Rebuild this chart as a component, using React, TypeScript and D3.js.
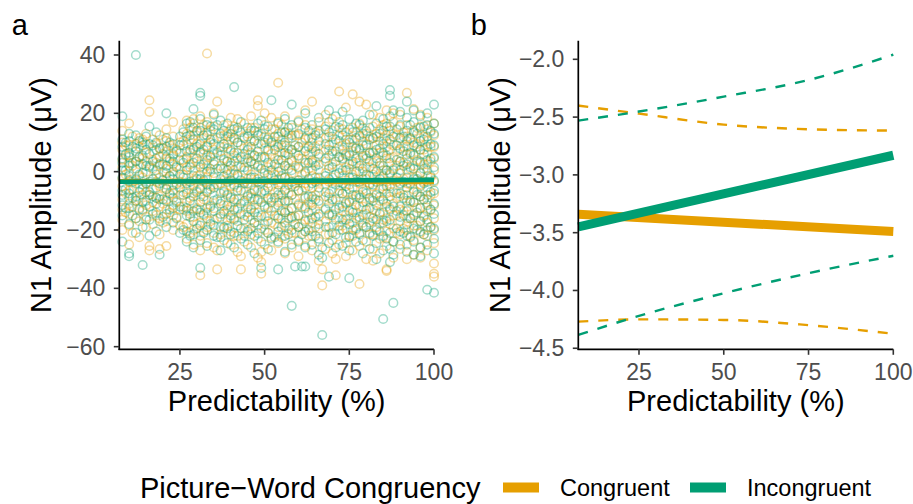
import React from "react";
import * as d3 from "d3";

// ---------- data ----------
const conditions = ["Congruent", "Incongruent"];
const conditionColors = ["#E69F00", "#009E73"];
const predictabilityTicks = [25, 50, 75, 100];
const amplitudeTicksA = [40, 20, 0, -20, -40, -60];
const amplitudeTicksB = [-2.0, -2.5, -3.0, -3.5, -4.0, -4.5];

// fitted regression lines (panel a & b)
const fitPredictability = [7.1, 100];
const congruentFit = [-3.34, -3.49];
const incongruentFit = [-3.45, -2.83];

// confidence bands (panel b)
const ciPredictability = [7.1, 25, 50, 75, 100];
const congruentUpper = [-2.4, -2.47, -2.565, -2.605, -2.617];
const congruentLower = [-4.27, -4.25, -4.255, -4.3, -4.375];
const incongruentUpper = [-2.53, -2.452, -2.323, -2.179, -1.96];
const incongruentLower = [-4.385, -4.22, -4.024, -3.851, -3.7];

// raw single-trial amplitudes (panel a), grouped by predictability column
const congruentTrials: [number, number[]][] = [
  [8, [-20, -16.5, -13, -9.5, -5, -2.5, 1.5, 4, 7.5, 10, 14]],
  [10, [-25, -18.5, -14.5, -11, -6.5, -3.5, 0, 3, 5.5, 9, 16.5]],
  [11, [-21, -12, -6, 2, 12]],
  [13, [-22.5, -17, -12.5, -9, -5.5, -1.5, 2.5, 5, 8.5, 11.5]],
  [15, [-19, -15.5, -11.5, -7, -4, 0, 3.5, 6.5, 9.5, 13]],
  [16, [-27, -25.5, -8, 20.5, 24.5]],
  [17, [-18, -13.5, -10.5, -6, -2.5, 1, 4, 7, 11]],
  [19, [-26.5, -21.5, -16, -12, -8.5, -5, -2, 2, 5, 8, 12.5]],
  [21, [-25.5, -17, -13, -9.5, -6, -2.5, 1, 4.5, 7, 10.5, 14.5]],
  [23, [-20, -15, -11.5, -7.5, -4.5, -1, 2.5, 5.5, 8, 12, 17]],
  [25, [-18.5, -13, -8, -3.5, 1, 6.5, 10]],
  [27, [-23, -18, -13.5, -10.5, -6, -2, 1.5, 5, 9.5, 13, 17.5]],
  [29, [-25, -20, -15.5, -11, -7.5, -3, 0.5, 4.5, 8, 12.5, 16.5, 18]],
  [31, [-35.5, -27, -22, -17.5, -13, -8.5, -5.5, -1, 2.5, 7, 10.5, 15, 19]],
  [33, [-24.5, -19, -14, -10, -6.5, -2, 2, 5.5, 9, 13.5, 17, 40.5]],
  [35, [-26, -21, -16.5, -12.5, -8, -4.5, -0.5, 3.5, 7.5, 11, 15.5, 20]],
  [36, [-33.5, -27, 24]],
  [38, [-23.5, -19.5, -14.5, -11.5, -6.5, -3, 1, 4.5, 8.5, 12.5, 16]],
  [40, [-25, -20.5, -16, -12, -8.5, -5, -0.5, 3, 7, 11, 14.5, 18.5]],
  [42, [-27.5, -22, -17, -13, -9.5, -5.5, -1.5, 2, 6.5, 10, 14, 18]],
  [43, [-33.5, -29]],
  [44, [-24, -19.5, -15, -10.5, -7, -3.5, 0.5, 4, 8, 12, 16.5]],
  [46, [-26, -21.5, -16.5, -12.5, -9, -4.5, -1, 3.5, 6.5, 10.5, 15, 19]],
  [48, [-29.5, -23, -18.5, -14, -10, -6.5, -2.5, 1.5, 5, 9.5, 13.5, 22.5, 24.5]],
  [49, [-35, -31, -27.5]],
  [50, [-25, -20, -15.5, -11.5, -7.5, -3, 0.5, 4.5, 8, 12, 16, 20]],
  [52, [-27, -22.5, -17.5, -13.5, -9, -5, -1.5, 2.5, 6, 10.5, 14.5, 18.5]],
  [54, [-24.5, -19, -15, -10.5, -6.5, -2.5, 1.5, 5.5, 9.5, 13, 17, 30.5]],
  [56, [-28, -23, -18.5, -14, -10.5, -6, -2, 2, 5.5, 9, 13.5, 19]],
  [58, [-26, -21, -16, -12.5, -8, -4.5, -0.5, 3.5, 7.5, 11.5, 15]],
  [60, [-29, -23.5, -19, -15, -11, -6.5, -3, 1, 4.5, 8.5, 12.5, 17.5]],
  [62, [-25.5, -20.5, -16.5, -12, -8.5, -4, 0, 4, 8, 11, 16, 21]],
  [64, [-27, -22, -17.5, -13.5, -9.5, -5.5, -1.5, 3, 6.5, 10, 14.5, 24]],
  [66, [-30.5, -24, -19.5, -15.5, -11, -7, -3.5, 0.5, 5, 9, 13, 17]],
  [67, [-39, -33.5]],
  [68, [-26.5, -21.5, -17, -12.5, -8.5, -4.5, -0.5, 3.5, 7.5, 11.5, 15.5, 19.5]],
  [70, [-28, -23.5, -18.5, -14.5, -10, -6, -2, 2.5, 6, 10, 14, 18]],
  [71, [-35.5, -30]],
  [72, [-25, -20, -16, -11.5, -7.5, -3.5, 1, 5, 8.5, 12.5, 17, 27.5]],
  [74, [-29, -24.5, -19.5, -15, -11, -7, -3, 1.5, 5.5, 9.5, 13.5, 22]],
  [76, [-27, -22, -17.5, -13, -9.5, -5.5, -1, 2.5, 7, 11, 15, 26.5]],
  [78, [-38.5, -25.5, -21, -16.5, -12, -8, -4, 0, 4, 8, 12, 16.5, 24]],
  [80, [-30, -24, -19, -14.5, -10.5, -6.5, -2.5, 1.5, 5.5, 9.5, 13, 23]],
  [82, [-30.5, -26.5, -21.5, -17, -13, -9, -5, -1, 3, 7, 11.5, 15.5, 19.5]],
  [84, [-28, -23, -18, -14, -10, -6, -1.5, 2, 6.5, 10.5, 14.5, 18.5]],
  [86, [-34, -33.5, -25.5, -20.5, -16, -12, -7.5, -3.5, 0.5, 4.5, 8.5, 12.5, 16.5, 21]],
  [88, [-29.5, -24, -19.5, -15, -11, -7, -3, 1, 5, 9, 13, 17, 20]],
  [90, [-26.5, -21.5, -17, -13, -8.5, -4.5, -0.5, 3.5, 7.5, 11.5, 15.5, 19.5]],
  [92, [-30, -25, -20, -16, -12, -8, -4, 0.5, 4.5, 8.5, 12, 16, 27]],
  [94, [-28.5, -23.5, -18.5, -14.5, -10.5, -6, -2, 2, 6, 10, 14, 21.5]],
  [96, [-29.5, -26, -21, -17, -12.5, -8.5, -4.5, -0.5, 3.5, 7.5, 11.5, 15.5, 19.5]],
  [98, [-27, -22, -17.5, -13.5, -9.5, -5.5, -1.5, 2.5, 6.5, 10.5, 14.5, 18.5]],
  [100, [-36, -35, -31.5, -24.5, -20, -16, -11.5, -7.5, -3.5, 0.5, 4.5, 8.5, 12.5, 16.5]],
];

// further congruent trials in the dense core
const congruentTrialsCore: [number, number[]][] = [
  [9, [-14, -7.5, -1, 5.5, 9]],
  [12, [-16, -10, -3, 3.5, 9.5]],
  [14, [-13.5, -8, -2, 4.5, 11]],
  [18, [-15, -9, -3.5, 3, 9.5]],
  [20, [-17.5, -11, -5.5, 0, 6, 11]],
  [22, [-14, -8, -1.5, 3.5, 9]],
  [24, [-15.5, -10, -4, 2, 7.5]],
  [26, [-19, -12, -7, -1, 4, 10.5, 14.5]],
  [28, [-21, -14.5, -9, -4.5, 2.5, 6.5, 11, 15]],
  [30, [-18, -12.5, -6.5, -1.5, 3.5, 9.5, 13.5]],
  [32, [-20.5, -15, -9.5, -3.5, 1, 6, 11.5, 16]],
  [34, [-17, -11.5, -5, 0, 5, 10, 14]],
  [37, [-21.5, -15.5, -10, -4, 2, 7, 12]],
  [39, [-18.5, -13, -7.5, -1, 3.5, 9.5, 13]],
  [41, [-22, -16, -10.5, -5, 0.5, 5.5, 11, 15.5]],
  [45, [-20, -14, -8, -2.5, 3, 8.5, 13]],
  [47, [-17.5, -11.5, -6, 0, 5.5, 10.5, 15]],
  [51, [-21, -15, -9.5, -4, 1.5, 7, 11.5]],
  [53, [-18, -12.5, -7, -1, 4.5, 9, 14.5]],
  [55, [-22.5, -16, -10, -4.5, 0.5, 6.5, 11, 16]],
  [57, [-19.5, -13.5, -7.5, -2.5, 3, 8, 13]],
  [59, [-21, -15.5, -9.5, -4, 2, 6.5, 12.5]],
  [61, [-18, -12, -6.5, -1, 4.5, 10, 14.5]],
  [63, [-22, -16.5, -10.5, -5, 1, 6, 11.5]],
  [65, [-19, -13, -8, -2, 3.5, 8.5, 13.5]],
  [69, [-21.5, -15, -9, -3.5, 2, 7.5, 12]],
  [73, [-18.5, -13.5, -7.5, -1.5, 4, 9, 14.5]],
  [75, [-22, -16, -10, -4.5, 1, 6.5, 11]],
  [77, [-20, -14, -8.5, -2.5, 3, 8, 13.5]],
  [79, [-17.5, -12, -6, 0, 5, 10.5, 15]],
  [81, [-21.5, -15.5, -9.5, -4, 1.5, 6.5, 12]],
  [83, [-19, -13.5, -7.5, -2, 3.5, 9, 13]],
  [85, [-22.5, -16.5, -10, -5, 0.5, 5.5, 11.5, 16]],
  [87, [-18, -12.5, -7, -1, 4.5, 9.5, 14]],
  [89, [-21, -15, -9, -3.5, 2, 7, 12.5]],
  [91, [-19.5, -13.5, -8, -2.5, 3, 8.5, 13.5]],
  [93, [-22, -16, -10.5, -4.5, 1, 6, 11]],
  [95, [-18.5, -12.5, -7, -1.5, 4, 9.5, 15]],
  [97, [-21.5, -15, -9.5, -3.5, 2.5, 7.5, 12]],
  [99, [-19, -13, -8, -2, 3.5, 8.5, 13.5]],
];

const incongruentTrials: [number, number[]][] = [
  [8, [-24, -15, -11.5, -8, -6.5, -2, 0.5, 3, 4.5, 8.5, 11, 19]],
  [10, [-29, -28, -18, -12.5, -9, -7.5, -3, -1.5, 2, 5, 6.5, 10.5, 13]],
  [12, [-21, -16, -10, -8.5, -4, -2.5, 1, 3.5, 7, 8, 12.5, 40]],
  [14, [-32, -19, -13, -10.5, -6, -4.5, -0.5, 2.5, 5.5, 9, 10]],
  [16, [-22, -16.5, -12, -8, -7, -3.5, 1.5, 2, 6, 9.5, 15.5]],
  [18, [-20.5, -14, -11, -9, -5.5, -1, 0.5, 4.5, 7.5, 10, 13.5]],
  [19, [-28.5, -17, -9.5, -4, 2.5, 8]],
  [21, [-19, -14.5, -10, -6, -4.5, -0.5, 2, 5, 8.5, 11.5, 20]],
  [23, [-17.5, -12.5, -9, -6.5, -2.5, 0, 3.5, 6, 9.5]],
  [25, [-21, -12, -5.5, -1, 4, 9, 12]],
  [27, [-24, -20.5, -15, -12.5, -7.5, -4, 0.5, 4.5, 7, 12, 16.5]],
  [29, [-26, -21.5, -17, -13.5, -8.5, -5, -1.5, 3, 7.5, 11, 15, 21.5]],
  [31, [-33, -23.5, -18.5, -14, -10.5, -6, -2.5, 1.5, 6.5, 9.5, 14, 18, 26, 27]],
  [33, [-25.5, -20, -16, -12.5, -7, -4.5, 0, 4, 8.5, 12.5, 16]],
  [35, [-22, -18.5, -13.5, -10, -5.5, -2, 2.5, 6, 9.5, 14.5, 19.5]],
  [37, [-27, -22.5, -19, -14.5, -11, -7.5, -2.5, 1, 5.5, 8.5, 13, 17.5]],
  [39, [-24.5, -19.5, -16.5, -11.5, -8, -3.5, 0.5, 3.5, 8, 12, 16.5]],
  [41, [-26, -21, -16.5, -13, -9.5, -4.5, -1, 3.5, 6.5, 11.5, 14.5, 29]],
  [43, [-23, -19.5, -14.5, -11, -6.5, -3, 1.5, 5, 9, 13.5, 17]],
  [45, [-25, -20.5, -15.5, -12, -8.5, -4, 0.5, 4.5, 7.5, 12, 15]],
  [47, [-28, -22, -17.5, -14, -9.5, -6.5, -2, 2.5, 5.5, 10.5, 14]],
  [49, [-33, -24, -19.5, -15, -10.5, -7, -3.5, 1, 5, 9.5, 13, 17.5]],
  [51, [-26.5, -21, -17, -12.5, -9, -5.5, -1, 3, 7.5, 11, 15.5]],
  [52, [-23, -10.5, 0.5, 10, 24.5]],
  [54, [-33.5, -24, -20.5, -16, -11.5, -8, -4.5, 0, 4, 8.5, 12, 16.5]],
  [56, [-27.5, -22, -17.5, -14, -10, -6.5, -2, 2, 6.5, 10, 13.5, 18]],
  [58, [-46, -25, -20, -15.5, -12.5, -8, -3.5, 0.5, 4, 7.5, 12.5, 16, 23]],
  [59, [-32.5, -18, -5, 9]],
  [60, [-24, -19, -15, -11.5, -6.5, -3, 1.5, 5.5, 8.5, 13, 17]],
  [61, [-32.5, -21.5]],
  [62, [-32.5, -26, -20.5, -17, -12.5, -9, -5.5, -0.5, 3, 7, 11.5, 15, 20]],
  [64, [-25, -20.5, -16, -11.5, -8.5, -4, 0.5, 4, 8, 11.5, 16]],
  [66, [-28.5, -23, -18, -14.5, -10, -5.5, -2, 2.5, 6, 10.5, 14, 18.5]],
  [67, [-56, -29.5, -26]],
  [69, [-36, -24.5, -19, -14.5, -11, -7.5, -2.5, 1, 5.5, 9, 13.5, 17, 21]],
  [71, [-26, -21.5, -16.5, -13, -9.5, -4.5, -1, 3.5, 7, 11, 15.5, 19]],
  [73, [-25.5, -20, -16.5, -12, -7.5, -4, 0.5, 4.5, 7.5, 12.5, 16, 20.5]],
  [75, [-36.5, -27, -22.5, -18, -13.5, -10.5, -6, -2, 2.5, 5.5, 10, 14.5, 18]],
  [77, [-24, -19.5, -16, -11.5, -8, -3.5, 0, 4.5, 8, 11.5, 16.5]],
  [79, [-28, -23.5, -18.5, -15, -10.5, -7, -2.5, 1, 5.5, 9, 13, 17.5]],
  [81, [-26.5, -21, -17.5, -12.5, -9, -4.5, -1.5, 3.5, 6.5, 11, 15, 19.5]],
  [83, [-30, -24.5, -20, -16.5, -11.5, -8, -3.5, 0, 4.5, 7.5, 12, 16.5, 22.5]],
  [85, [-50.5, -27, -22, -17.5, -14, -9.5, -6, -1.5, 2, 6.5, 9.5, 14, 18]],
  [87, [-31, -26.5, -21, -16.5, -13, -8.5, -5, -0.5, 3, 7.5, 11, 15.5, 19, 26, 28]],
  [88, [-45, -28.5, -24, -12, 0.5, 12, 21]],
  [90, [-25, -20.5, -15.5, -12, -7.5, -4, 0.5, 3.5, 8, 11.5, 16, 20.5]],
  [92, [-27.5, -22, -18, -13.5, -10, -5.5, -2, 2.5, 6, 10.5, 14, 18.5, 24]],
  [94, [-28.5, -24, -19.5, -15, -10.5, -7, -2.5, 1, 5.5, 9, 13.5, 17, 21]],
  [96, [-29, -26, -20.5, -17, -12.5, -8.5, -5, -0.5, 3, 7.5, 10.5, 15, 19]],
  [98, [-40.5, -25, -20, -16.5, -11.5, -8, -3.5, 0.5, 4, 8.5, 12, 16, 20]],
  [100, [-41.5, -28, -23, -19.5, -14.5, -11, -6.5, -3, 1.5, 5, 9, 13, 16.5, 23]],
];

// further incongruent trials in the dense core
const incongruentTrialsCore: [number, number[]][] = [
  [9, [-12.5, -6, 0.5, 6, 10]],
  [11, [-15, -9, -3.5, 3, 8.5]],
  [13, [-13, -7, -1, 5, 10.5]],
  [15, [-16.5, -10, -4, 2, 7.5, 12]],
  [17, [-14.5, -8.5, -2.5, 3.5, 9]],
  [20, [-15.5, -9.5, -3, 2.5, 8]],
  [22, [-13, -7.5, -1.5, 4.5, 10]],
  [24, [-16, -10.5, -4.5, 1.5, 7]],
  [26, [-20, -13, -8, -2, 3, 9, 13.5]],
  [28, [-22, -15.5, -10, -3.5, 1.5, 7.5, 12.5, 17]],
  [30, [-19.5, -13, -7, -2.5, 4.5, 8.5, 14]],
  [32, [-21, -14.5, -8.5, -3, 2.5, 7.5, 12.5]],
  [34, [-18, -12, -6, 1, 5.5, 11, 15.5]],
  [36, [-22.5, -16, -9.5, -4.5, 1, 6.5, 11.5, 16]],
  [38, [-19, -13.5, -7, -1.5, 4, 9.5, 14]],
  [40, [-21.5, -15, -9, -3, 2, 7.5, 13]],
  [42, [-18.5, -12.5, -6.5, -1, 4.5, 10, 15]],
  [44, [-22, -16.5, -10, -4, 1.5, 6, 11.5]],
  [46, [-19.5, -13, -7.5, -2, 3.5, 8.5, 14]],
  [48, [-21, -15.5, -9.5, -3.5, 2, 7, 12.5, 16.5]],
  [50, [-18, -12, -6.5, -0.5, 5, 10, 14.5]],
  [53, [-22.5, -15, -9, -3, 2.5, 7.5, 12]],
  [55, [-19, -13.5, -8, -1.5, 4, 9, 13.5]],
  [57, [-21.5, -16, -10, -4.5, 1, 6, 11.5, 15]],
  [63, [-20, -14, -8.5, -2.5, 3, 8.5, 14]],
  [65, [-22, -15.5, -9.5, -3.5, 2, 7, 12.5]],
  [68, [-19, -13, -7, -1.5, 4.5, 9.5, 14.5]],
  [70, [-21, -15, -9.5, -4, 1.5, 7, 12]],
  [72, [-18.5, -12.5, -6.5, -0.5, 5, 10.5, 15]],
  [74, [-22.5, -16.5, -10.5, -5, 0.5, 6, 11]],
  [76, [-20, -14, -8, -2, 3.5, 8.5, 13.5]],
  [78, [-21.5, -15.5, -9, -3.5, 2, 7.5, 12.5, 16]],
  [80, [-19, -13, -7.5, -1, 4.5, 9, 14]],
  [82, [-22, -16, -10, -4.5, 1, 6.5, 11.5]],
  [84, [-20.5, -14.5, -8.5, -2.5, 3, 8, 13]],
  [86, [-23, -17, -11, -5, 0.5, 5.5, 10.5, 15.5]],
  [89, [-19.5, -13.5, -7.5, -2, 4, 9, 14.5]],
  [91, [-21, -15, -9, -3.5, 2, 7, 12]],
  [93, [-22.5, -16, -10, -4, 1.5, 6.5, 11.5, 16]],
  [95, [-20, -14, -8, -2.5, 3.5, 8.5, 13]],
  [97, [-21.5, -15.5, -9.5, -4, 1, 6, 11, 15.5]],
  [99, [-19, -13, -7, -1.5, 4.5, 9.5, 14]],
];

// ---------- layout ----------
const W = 913;
const H = 504;
const FONT = "'Liberation Sans', Arial, Helvetica, sans-serif";
const TOP = 40.7;
const BOTTOM = 349.3;

const fmtMinus = (s: string) => s.replace("-", "\u2212");

type PanelProps = {
  tag: string;
  left: number;
  right: number;
  yDomain: [number, number];
  yTicks: number[];
  yFmt: (v: number) => string;
  children: (sx: d3.ScaleLinear<number, number>, sy: d3.ScaleLinear<number, number>) => React.ReactNode;
};

function Panel({ tag, left, right, yDomain, yTicks, yFmt, children }: PanelProps) {
  const sx = d3.scaleLinear().domain([7.1, 100]).range([left, right]);
  const sy = d3.scaleLinear().domain(yDomain).range([BOTTOM, TOP]);
  const cx = (left + right) / 2;
  return (
    <g>
      {children(sx, sy)}
      {/* axes */}
      <line x1={left} x2={left} y1={TOP} y2={BOTTOM + 0.8} stroke="#000" strokeWidth={1.7} />
      <line x1={left - 0.8} x2={right} y1={BOTTOM} y2={BOTTOM} stroke="#000" strokeWidth={1.7} />
      {yTicks.map((t) => (
        <g key={"y" + t}>
          <line x1={left - 5.5} x2={left} y1={sy(t)} y2={sy(t)} stroke="#333" strokeWidth={1.6} />
          <text
            x={left - 14}
            y={sy(t) + 8}
            textAnchor="end"
            fontSize={23}
            fill="#4D4D4D"
            fontFamily={FONT}
          >
            {yFmt(t)}
          </text>
        </g>
      ))}
      {predictabilityTicks.map((t) => (
        <g key={"x" + t}>
          <line x1={sx(t)} x2={sx(t)} y1={BOTTOM} y2={BOTTOM + 5.5} stroke="#333" strokeWidth={1.6} />
          <text x={sx(t)} y={380} textAnchor="middle" fontSize={23} fill="#4D4D4D" fontFamily={FONT}>
            {t}
          </text>
        </g>
      ))}
      <text x={cx} y={411} textAnchor="middle" fontSize={29} fill="#000" fontFamily={FONT}>
        Predictability (%)
      </text>
      <text
        transform={`translate(${left - 68.5},195) rotate(-90)`}
        textAnchor="middle"
        fontSize={29}
        fill="#000"
        fontFamily={FONT}
      >
        N1 Amplitude (μV)
      </text>
      <text x={left - 107.5} y={35} fontSize={29} fill="#000" fontFamily={FONT}>
        {tag}
      </text>
    </g>
  );
}

export default function App() {
  const trialSets = [
    [congruentTrials, congruentTrialsCore],
    [incongruentTrials, incongruentTrialsCore],
  ];
  const points: { x: number; y: number; c: number }[] = [];
  trialSets.forEach((sets, c) =>
    sets.forEach((set) => set.forEach(([x, ys]) => ys.forEach((y) => points.push({ x, y, c }))))
  );
  points.sort((a, b) => a.x - b.x || a.c - b.c);

  const fits = [congruentFit, incongruentFit];
  const bands = [
    [congruentUpper, congruentLower],
    [incongruentUpper, incongruentLower],
  ];

  return (
    <svg
      width={W}
      height={H}
      viewBox={`0 0 ${W} ${H}`}
      style={{ position: "absolute", left: 0, top: 0, background: "#fff" }}
    >
      <rect width={W} height={H} fill="#fff" />
      <Panel
        tag="a"
        left={119.3}
        right={434}
        yDomain={[-60.9, 44.9]}
        yTicks={amplitudeTicksA}
        yFmt={(v) => fmtMinus(d3.format("d")(v))}
      >
        {(sx, sy) => (
          <g>
            {points.map((p, i) => (
              <circle
                key={i}
                cx={sx(p.x)}
                cy={sy(p.y)}
                r={4.3}
                fill="none"
                stroke={conditionColors[p.c]}
                strokeOpacity={0.36}
                strokeWidth={1.5}
              />
            ))}
            {fits.map((f, c) => (
              <line
                key={c}
                x1={sx(fitPredictability[0])}
                x2={sx(fitPredictability[1])}
                y1={sy(f[0])}
                y2={sy(f[1])}
                stroke={conditionColors[c]}
                strokeWidth={4.6}
              />
            ))}
          </g>
        )}
      </Panel>
      <Panel
        tag="b"
        left={578.3}
        right={893.3}
        yDomain={[-4.509, -1.839]}
        yTicks={amplitudeTicksB}
        yFmt={(v) => fmtMinus(d3.format(".1f")(v))}
      >
        {(sx, sy) => {
          const line = d3
            .line<number>()
            .x((_, i) => sx(ciPredictability[i]))
            .y((d) => sy(d))
            .curve(d3.curveMonotoneX);
          return (
            <g>
              {fits.map((f, c) => (
                <line
                  key={"f" + c}
                  x1={sx(fitPredictability[0])}
                  x2={sx(fitPredictability[1])}
                  y1={sy(f[0])}
                  y2={sy(f[1])}
                  stroke={conditionColors[c]}
                  strokeWidth={9}
                />
              ))}
              {bands.map((b, c) =>
                b.map((arr, j) => (
                  <path
                    key={"b" + c + j}
                    d={line(arr) || ""}
                    fill="none"
                    stroke={conditionColors[c]}
                    strokeWidth={2.4}
                    strokeDasharray="10,10"
                  />
                ))
              )}
            </g>
          );
        }}
      </Panel>
      {/* legend */}
      <g fontFamily={FONT}>
        <text x={140} y={497.5} fontSize={29} fill="#000">
          Picture−Word Congruency
        </text>
        {conditions.map((name, i) => {
          const kx = [503, 690][i];
          return (
            <g key={name}>
              <rect x={kx} y={482.5} width={36} height={10} fill={conditionColors[i]} />
              <text x={kx + 57} y={495.5} fontSize={23.5} fill="#000">
                {name}
              </text>
            </g>
          );
        })}
      </g>
    </svg>
  );
}
